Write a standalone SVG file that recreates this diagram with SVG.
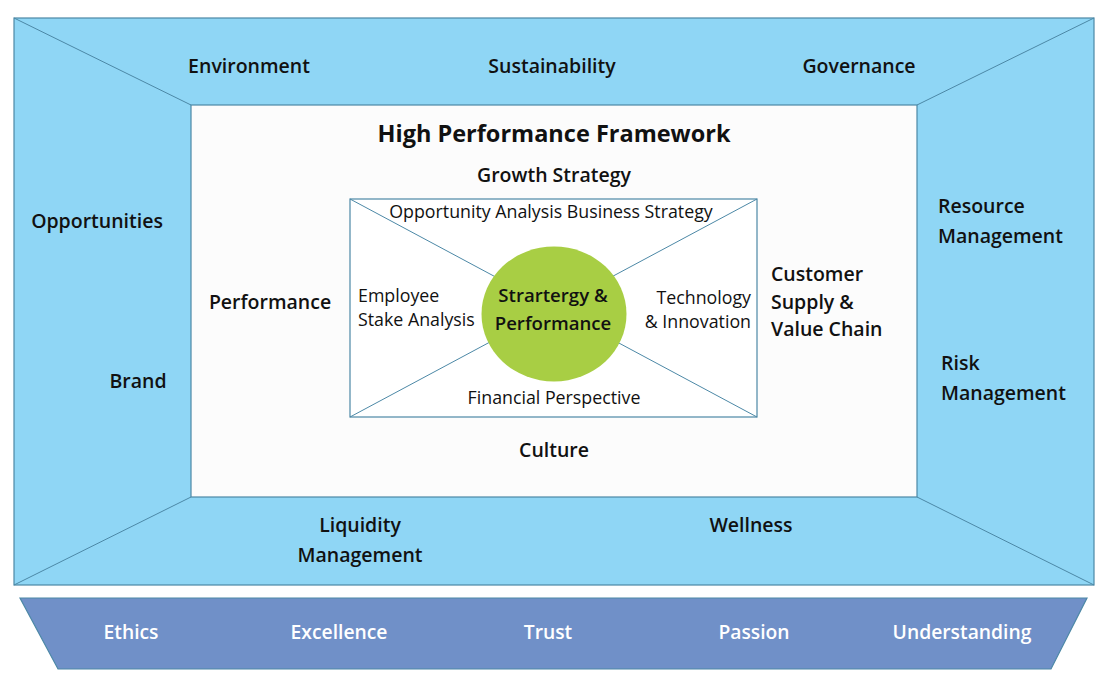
<svg xmlns="http://www.w3.org/2000/svg" width="1109" height="687" viewBox="0 0 1109 687">
<style>
.frame{fill:#8FD6F5;stroke:#4C88A6;stroke-width:1.2}
.diag{stroke:#4C88A6;stroke-width:1;fill:none}
.inner{fill:#FCFCFC;stroke:#4C88A6;stroke-width:1.2}
.box{fill:#FFFFFF;stroke:#4C88A6;stroke-width:1.2}
.x{stroke:#4C88A6;stroke-width:1;fill:none}
.lb{font-family:"Open Sans","Noto Sans",sans-serif;font-weight:600;font-size:19.5px;fill:#111}
.title{font-family:"Open Sans","Noto Sans",sans-serif;font-weight:700;font-size:23.5px;fill:#111}
.sm{font-family:"Open Sans","Noto Sans",sans-serif;font-weight:400;font-size:17.8px;fill:#111}
.ctr{font-family:"Open Sans","Noto Sans",sans-serif;font-weight:600;font-size:18.6px;fill:#111}
.bar{fill:#7090C8;stroke:#4C88A6;stroke-width:1.2}
.wt{font-family:"Open Sans","Noto Sans",sans-serif;font-weight:600;font-size:19.3px;fill:#FFFFFF}
.m{text-anchor:middle}
</style>
<g id="outer-frame">
<rect class="frame" x="14" y="18" width="1080" height="567"/>
<line class="diag" x1="14" y1="18" x2="191" y2="105"/>
<line class="diag" x1="1094" y1="18" x2="917" y2="105"/>
<line class="diag" x1="14" y1="585" x2="191" y2="497"/>
<line class="diag" x1="1094" y1="585" x2="917" y2="497"/>
<text class="lb m" x="249" y="73">Environment</text>
<text class="lb m" x="552" y="73">Sustainability</text>
<text class="lb m" x="859" y="73">Governance</text>
<text class="lb m" x="97" y="228">Opportunities</text>
<text class="lb m" x="138" y="388">Brand</text>
<text class="lb" x="938" y="213">Resource</text>
<text class="lb" x="938" y="243">Management</text>
<text class="lb" x="941" y="370">Risk</text>
<text class="lb" x="941" y="400">Management</text>
<text class="lb m" x="360" y="532">Liquidity</text>
<text class="lb m" x="360" y="562">Management</text>
<text class="lb m" x="751" y="532">Wellness</text>
</g>
<g id="framework">
<rect class="inner" x="191" y="105" width="726" height="392"/>
<text class="title m" x="554" y="142">High Performance Framework</text>
<text class="lb m" x="554" y="182">Growth Strategy</text>
<text class="lb m" x="270" y="309">Performance</text>
<text class="lb" x="771" y="281">Customer</text>
<text class="lb" x="771" y="309">Supply &amp;</text>
<text class="lb" x="771" y="336">Value Chain</text>
<text class="lb m" x="554" y="457">Culture</text>
</g>
<g id="strategy-box">
<rect class="box" x="350" y="199" width="407" height="218"/>
<g id="connectors">
<line class="x" x1="350" y1="199" x2="757" y2="417"/>
<line class="x" x1="757" y1="199" x2="350" y2="417"/>
</g>
<text class="sm m" x="551" y="218">Opportunity Analysis Business Strategy</text>
<text class="sm" x="358" y="302">Employee</text>
<text class="sm" x="358" y="326">Stake Analysis</text>
<text class="sm" x="751" y="304" text-anchor="end">Technology</text>
<text class="sm" x="751" y="328" text-anchor="end">&amp; Innovation</text>
<text class="sm m" x="554" y="404">Financial Perspective</text>
</g>
<g id="center">
<ellipse cx="554" cy="314" rx="72.5" ry="67.5" fill="#A8CE44"/>
<text class="ctr m" x="553" y="302">Strartergy &amp;</text>
<text class="ctr m" x="553" y="330">Performance</text>
</g>
<g id="values-bar">
<polygon class="bar" points="20,598 1087,598 1051,669 58,669"/>
<text class="wt m" x="131" y="639">Ethics</text>
<text class="wt m" x="339" y="639">Excellence</text>
<text class="wt m" x="548" y="639">Trust</text>
<text class="wt m" x="754" y="639">Passion</text>
<text class="wt m" x="962" y="639">Understanding</text>
</g>
</svg>
